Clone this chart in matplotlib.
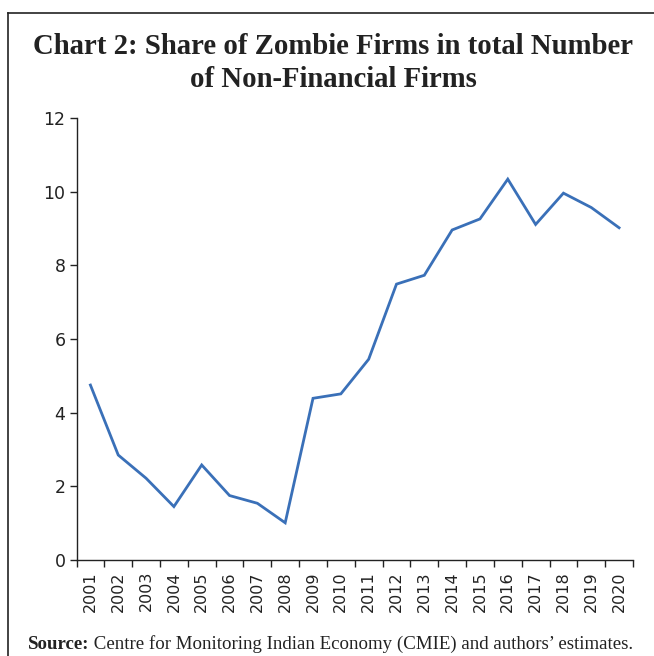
import matplotlib
matplotlib.use("Agg")
import matplotlib.pyplot as plt
from matplotlib.lines import Line2D

years = ["2001", "2002", "2003", "2004", "2005", "2006", "2007", "2008", "2009", "2010",
         "2011", "2012", "2013", "2014", "2015", "2016", "2017", "2018", "2019", "2020"]
share = [4.75, 2.85, 2.22, 1.45, 2.58, 1.75, 1.54, 1.01, 4.39, 4.51,
         5.45, 7.49, 7.73, 8.96, 9.26, 10.34, 9.11, 9.96, 9.57, 9.02]
yticks = [0, 2, 4, 6, 8, 10, 12]

title = "Chart 2: Share of Zombie Firms in total Number\nof Non-Financial Firms"
source_label = "Source:"
source_text = " Centre for Monitoring Indian Economy (CMIE) and authors\u2019 estimates."

fig = plt.figure(figsize=(6.54, 6.56), dpi=100)
W, H = 654, 656

# border (left and top)
fig.add_artist(Line2D([8 / W, 8 / W], [0, 1 - 13 / H], transform=fig.transFigure,
                      color="#222222", lw=1.2))
fig.add_artist(Line2D([8 / W, 1], [1 - 13 / H, 1 - 13 / H], transform=fig.transFigure,
                      color="#222222", lw=1.2))

ax = fig.add_axes([76.5 / W, 1 - 560 / H, (633 - 76.5) / W, (560 - 118) / H])
x = list(range(len(years)))
ax.plot(x, share, color="#3a70b8", lw=2.0, solid_joinstyle="miter")
ax.set_xlim(-0.5, len(years) - 0.5)
ax.set_ylim(0, 12)
ax.set_yticks(yticks)
ax.set_yticklabels([str(v) for v in yticks], fontsize=12.5, color="#222222")
ax.set_xticks(x)
ax.set_xticklabels(years, rotation=90, fontsize=11.5, color="#222222")
ax.tick_params(axis="x", which="major", length=0, pad=8)
ax.set_xticks([i - 0.5 for i in range(len(years) + 1)], minor=True)
ax.tick_params(axis="x", which="minor", length=5, width=1, color="#222222", direction="out")
ax.tick_params(axis="y", length=5, width=1, color="#222222", direction="out", pad=3)
for s in ["top", "right"]:
    ax.spines[s].set_visible(False)
for s in ["left", "bottom"]:
    ax.spines[s].set_color("#222222")
    ax.spines[s].set_linewidth(1.0)

fig.text(333 / W, 1 - 63 / H, title, ha="center", va="center", fontsize=20.7,
         fontweight="bold", family="Liberation Serif", color="#222222", linespacing=1.25)

t1 = fig.text(28 / W, 1 - 649 / H, source_label, ha="left", va="baseline", fontsize=13.6,
              fontweight="bold", family="Liberation Serif", color="#222222")
ax.annotate(source_text, xy=(1, 0), xycoords=t1, ha="left", va="bottom", fontsize=13.6,
            family="Liberation Serif", color="#222222", annotation_clip=False)

fig.savefig("out.png", dpi=100)
